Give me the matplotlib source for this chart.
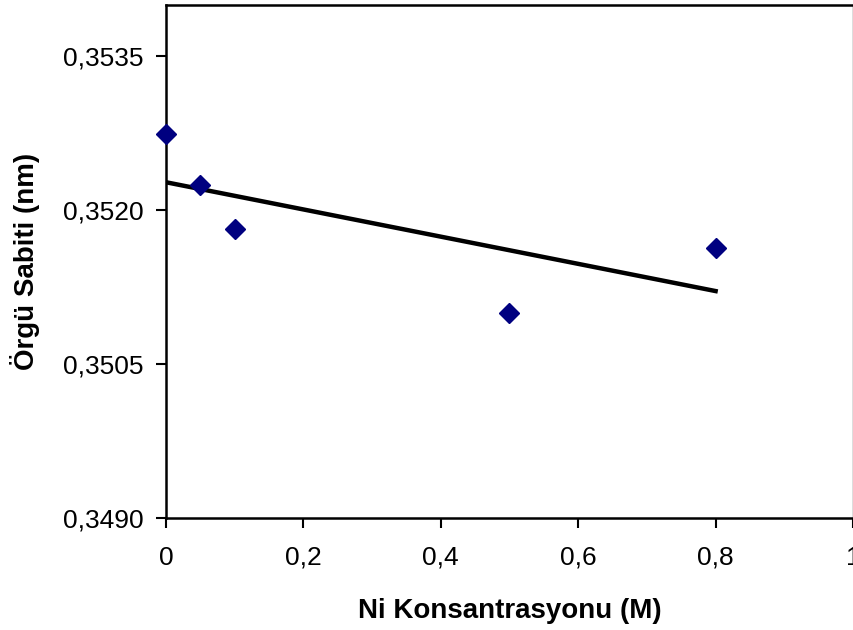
import matplotlib.pyplot as plt
import numpy as np

# Ni konsantrasyonu (M) ve örgü sabiti (nm)
konsantrasyon = [0.0, 0.05, 0.1, 0.5, 0.8]
orgu_sabiti = [0.35274, 0.35225, 0.35182, 0.35100, 0.35163]

x_ticks = [0, 0.2, 0.4, 0.6, 0.8, 1.0]
x_labels = ["0", "0,2", "0,4", "0,6", "0,8", "1"]
y_ticks = [0.3490, 0.3505, 0.3520, 0.3535]
y_labels = ["0,3490", "0,3505", "0,3520", "0,3535"]

plt.rcParams['font.family'] = ['Liberation Sans', 'DejaVu Sans']

fig = plt.figure(figsize=(8.54, 6.3), dpi=100)
ax = fig.add_axes([166 / 854, 112 / 630, 687 / 854, 513 / 630])

ax.plot(konsantrasyon, orgu_sabiti, linestyle="none", marker="D",
        color="#000080", markersize=10, clip_on=False, zorder=3)

# lineer trend çizgisi
egim, kesim = np.polyfit(konsantrasyon, orgu_sabiti, 1)
xt = np.array([min(konsantrasyon), max(konsantrasyon)])
ax.plot(xt, egim * xt + kesim, color="black", linewidth=3.2, zorder=2)

ax.set_xlim(0, 1)
ax.set_ylim(0.3490, 0.3540)
ax.set_xticks(x_ticks)
ax.set_xticklabels(x_labels)
ax.set_yticks(y_ticks)
ax.set_yticklabels(y_labels)
ax.tick_params(direction="out", length=7, width=1.5, labelsize=19)
ax.tick_params(axis="x", pad=13)
ax.tick_params(axis="y", pad=9)

for s in ax.spines.values():
    s.set_linewidth(1.8)
ax.spines["right"].set_linewidth(1)
ax.spines["right"].set_color("#555555")

ax.set_xlabel("Ni Konsantrasyonu (M)", fontsize=20, fontweight="bold", labelpad=20)
ax.set_ylabel("Örgü Sabiti (nm)", fontsize=20, fontweight="bold", labelpad=17)

fig.savefig("out.png", dpi=100)
